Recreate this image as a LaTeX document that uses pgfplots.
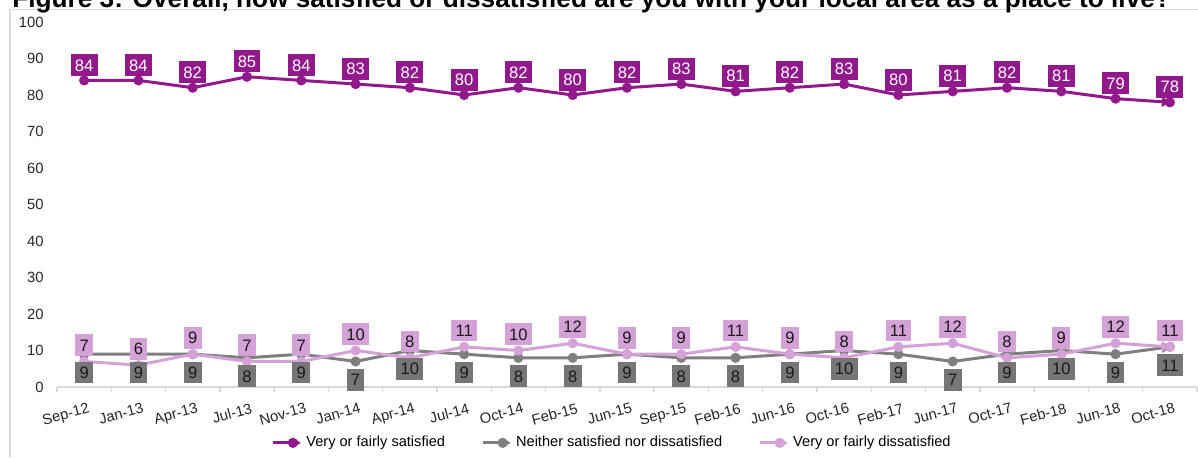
\documentclass[border=0pt]{standalone}
\usepackage{fontspec}
\setmainfont{Liberation Sans}
\usepackage{pgfplots}
\usepackage{pgfplotstable}
\pgfplotsset{compat=1.18}
\usetikzlibrary{arrows.meta}
\definecolor{satP}{RGB}{145,25,140}
\definecolor{neuG}{RGB}{127,127,127}
\definecolor{disP}{RGB}{212,162,214}
\definecolor{lblG}{RGB}{118,118,118}
\definecolor{axG}{RGB}{217,217,217}
\tikzset{label node/.style={font=\fontsize{8.3}{9}\selectfont, inner xsep=2.1pt, inner ysep=2.5pt, text height=5.95pt, text depth=0pt}}
\pgfplotstableread{
x sat neu dis
0 84 9 7
1 84 9 6
2 82 9 9
3 85 8 7
4 84 9 7
5 83 7 10
6 82 10 8
7 80 9 11
8 82 8 10
9 80 8 12
10 82 9 9
11 83 8 9
12 81 8 11
13 82 9 9
14 83 10 8
15 80 9 11
16 81 7 12
17 82 9 8
18 81 10 9
19 79 9 12
20 78 11 11
}\datatable
\begin{document}
\begin{tikzpicture}
\useasboundingbox (0,0) rectangle (599pt,228.5pt);
\draw[axG, line width=0.75pt] (5pt,0) -- (5pt,223.75pt) -- (599pt,223.75pt);
\node[anchor=base west, inner sep=0pt, font=\fontsize{13.1}{15}\selectfont\bfseries] at (6pt,225pt) {Figure 3: Overall, how satisfied or dissatisfied are you with your local area as a place to live?};
\begin{axis}[
 scale only axis, width=570pt, height=182.5pt,
 at={(28.5pt,35pt)}, anchor=south west,
 xmin=-0.5, xmax=20.5, ymin=0, ymax=100,
 axis x line*=bottom, axis y line*=left,
 y axis line style={draw=none},
 x axis line style={draw=axG, line width=0.75pt, -},
 xtick={0,...,20},
 xticklabels={Sep-12,Jan-13,Apr-13,Jul-13,Nov-13,Jan-14,Apr-14,Jul-14,Oct-14,Feb-15,Jun-15,Sep-15,Feb-16,Jun-16,Oct-16,Feb-17,Jun-17,Oct-17,Feb-18,Jun-18,Oct-18},
 minor xtick={-0.5,0.5,...,20.5},
 ytick={0,10,...,100},
 major tick length=0pt, minor tick length=2.5pt, tick align=outside,
 minor tick style={draw=axG, line width=0.75pt},
 tick label style={font=\fontsize{7.4}{8}\selectfont, text=black!85},
 xticklabel style={rotate=15, anchor=north east, inner sep=0pt, yshift=-7.8pt, xshift=-0.3pt},
 yticklabel style={anchor=east, inner sep=0pt, xshift=-6.5pt},
 /pgf/number format/assume math mode=true,
 legend columns=3,
 legend style={at={(0.4877,-0.153)}, anchor=center, draw=none, fill=none,
   font=\fontsize{7.3}{8}\selectfont, inner sep=0pt,
   /tikz/every even column/.append style={column sep=16pt}},
 legend cell align=left,
 legend image code/.code={\draw[mark repeat=2,mark phase=2,#1] plot coordinates {(0pt,0pt) (10pt,0pt) (14pt,0pt)};},
 clip=false,
]
\addplot[satP, line width=1.5pt, mark=*, mark size=1.75pt, -{Triangle[length=4pt,width=5pt]}] table[x=x,y=sat]{\datatable};
\addlegendentry{Very or fairly satisfied}
\addplot[neuG, line width=1.5pt, mark=*, mark size=1.75pt, -{Triangle[length=4pt,width=5pt]}] table[x=x,y=neu]{\datatable};
\addlegendentry{Neither satisfied nor dissatisfied}
\addplot[disP, line width=1.5pt, mark=*, mark size=1.75pt, -{Triangle[length=4pt,width=5pt]}] table[x=x,y=dis]{\datatable};
\addlegendentry{Very or fairly dissatisfied}
% label layers
\addplot[draw=none, forget plot, nodes near coords, nodes near coords align={anchor=south},
  nodes near coords style={label node, fill=satP, text=white, anchor=south, yshift=2pt}] table[x=x,y=sat]{\datatable};
\addplot[draw=none, forget plot, nodes near coords, nodes near coords align={anchor=north},
  nodes near coords style={label node, fill=lblG, text=black!90, anchor=north, yshift=-3.5pt}] table[x=x,y=neu]{\datatable};
\addplot[draw=none, forget plot, nodes near coords, nodes near coords align={anchor=south},
  nodes near coords style={label node, fill=disP, text=black!90, anchor=south, yshift=2.5pt}] table[x=x,y=dis]{\datatable};
\end{axis}
\end{tikzpicture}
\end{document}
